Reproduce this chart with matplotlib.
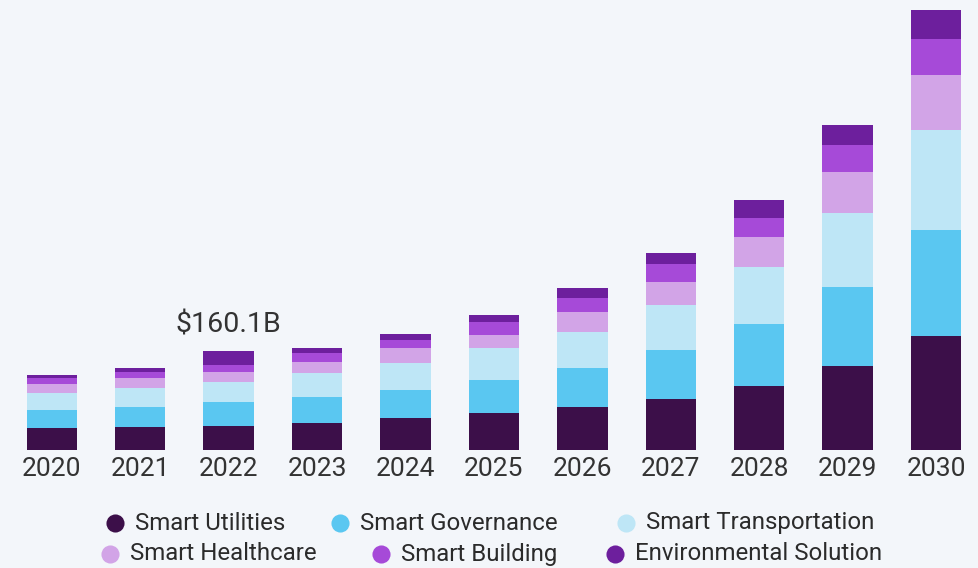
import matplotlib
matplotlib.use("Agg")
import matplotlib.pyplot as plt
import numpy as np

# Market size by segment, USD billion
years = ["2020", "2021", "2022", "2023", "2024", "2025", "2026", "2027", "2028", "2029", "2030"]
smart_utilities = [35.0, 37.6, 38.7, 44.0, 51.1, 59.2, 68.8, 81.7, 103.2, 135.9, 183.8]
smart_governance = [29.5, 32.2, 39.2, 40.9, 45.6, 53.7, 63.8, 79.5, 99.9, 126.4, 170.9]
smart_transportation = [26.9, 29.7, 32.2, 39.7, 44.0, 51.1, 58.0, 72.5, 92.4, 120.3, 161.2]
smart_healthcare = [15.0, 16.1, 16.1, 17.7, 23.2, 21.4, 32.2, 37.6, 48.4, 64.5, 88.7]
smart_building = [10.2, 10.6, 10.8, 13.5, 13.4, 21.4, 21.6, 28.5, 29.7, 44.7, 57.5]
environmental_solution = [4.4, 6.4, 23.1, 9.0, 9.2, 10.8, 16.1, 17.2, 28.4, 32.2, 46.1]

segment_names = ["Smart Utilities", "Smart Governance", "Smart Transportation",
                 "Smart Healthcare", "Smart Building", "Environmental Solution"]
segment_values = [smart_utilities, smart_governance, smart_transportation,
                  smart_healthcare, smart_building, environmental_solution]
colors = ["#3c0f49", "#5ac7f1", "#bee6f6", "#d2a4e7", "#a64ad8", "#6d1f9d"]

highlight_year = "2022"
highlight_label = "$160.1B"

BG = "#f3f6fa"
W, H = 979, 568

plt.rcParams["font.family"] = ["Roboto", "DejaVu Sans"]

fig = plt.figure(figsize=(W / 100, H / 100), dpi=100, facecolor=BG)
ax = fig.add_axes([0, 1 - 450 / H, 1, 450 / H])
ax.set_facecolor(BG)

x = np.arange(len(years))
bottom = np.zeros(len(years))
for name, vals, c in zip(segment_names, segment_values, colors):
    vals = np.array(vals)
    ax.bar(x, vals, bottom=bottom, width=0.57, color=c, linewidth=0)
    bottom += vals

# total label over the highlighted year
i = years.index(highlight_year)
ax.annotate(highlight_label, (x[i], bottom[i]), xytext=(0, 13),
            textcoords="offset points", ha="center", va="baseline",
            fontsize=20.5, color="#333333")

ax.set_xlim(-0.585, 10.486)
ax.set_ylim(0, 725)
ax.set_xticks(x, years, fontsize=19, color="#333333")
ax.tick_params(axis="x", length=0, pad=5)
ax.set_yticks([])
for s in ax.spines.values():
    s.set_visible(False)

# legend laid out in two centred rows
leg = fig.add_axes([0, 0, 1, 1], facecolor="none")
leg.set_xlim(0, W)
leg.set_ylim(H, 0)
leg.axis("off")
rows = [(523, [115, 340, 626]), (554, [110, 381, 615])]
k = 0
for y, xs in rows:
    for xm in xs:
        leg.scatter([xm], [y], s=170, color=colors[k], linewidths=0)
        leg.text(xm + 20, y, segment_names[k], fontsize=17.3, color="#2b2b2b",
                 va="center", ha="left")
        k += 1

fig.savefig("out.png", dpi=100, facecolor=BG)
